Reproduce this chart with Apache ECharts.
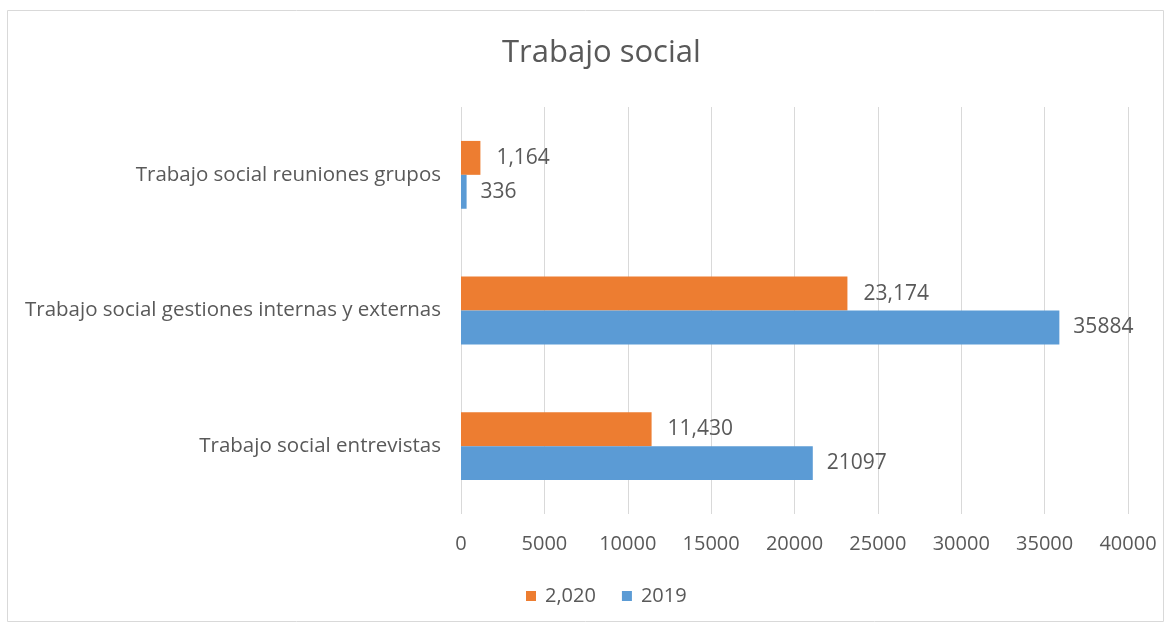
<!DOCTYPE html>
<html>
<head>
<meta charset="utf-8">
<script src="https://cdn.jsdelivr.net/npm/echarts@6/dist/echarts.min.js"></script>
<style>
  html, body { margin: 0; padding: 0; background: #fff; }
  #chart { width: 1171px; height: 626px; }
</style>
</head>
<body>
<div id="chart"></div>
<script>
// categories from bottom to top (category axis starts at the bottom)
const categories = [
  'Trabajo social entrevistas',
  'Trabajo social gestiones internas y externas',
  'Trabajo social reuniones grupos'
]
const values2020 = [11430, 23174, 1164]
const values2019 = [21097, 35884, 336]
const xTicks = { min: 0, max: 40000, interval: 5000 }

const chart = echarts.init(document.getElementById('chart'))
const textColor = '#595959'
const font = '"Open Sans", sans-serif'

chart.setOption({
  animation: false,
  textStyle: { fontFamily: font },
  title: {
    text: 'Trabajo social',
    left: 497,
    top: 33,
    textStyle: { fontSize: 31, fontWeight: 'normal', color: textColor, fontFamily: font }
  },
  // chart frame
  graphic: [{
    type: 'rect',
    shape: { x: 7.5, y: 10.5, width: 1156, height: 611 },
    style: { fill: 'none', stroke: '#d9d9d9', lineWidth: 1 },
    silent: true
  }],
  legend: {
    data: ['2,020', '2019'],
    top: 581,
    left: 521,
    icon: 'rect',
    itemWidth: 10,
    itemHeight: 10,
    itemGap: 26,
    textStyle: { fontSize: 20, color: textColor, fontFamily: font, padding: [0, 0, 0, 4] }
  },
  grid: {
    left: 461,
    right: 43,
    top: 107,
    bottom: 112
  },
  xAxis: {
    type: 'value',
    min: xTicks.min,
    max: xTicks.max,
    interval: xTicks.interval,
    axisLine: { show: false },
    axisTick: { show: false },
    axisLabel: {
      color: textColor,
      fontSize: 20,
      margin: 20,
      fontFamily: font,
      formatter: v => String(v)
    },
    splitLine: { lineStyle: { color: '#d9d9d9' } }
  },
  yAxis: {
    type: 'category',
    data: categories,
    axisLine: { show: false },
    axisTick: { show: false },
    axisLabel: { color: textColor, fontSize: 20.5, margin: 20, fontFamily: font }
  },
  series: [
    {
      // first series sits on top within each band
      name: '2,020',
      type: 'bar',
      data: values2020,
      barGap: '0%',
      barCategoryGap: '50%',
      itemStyle: { color: '#ED7D31' },
      label: {
        show: true,
        position: 'right',
        distance: 16,
        color: textColor,
        fontSize: 21,
        fontFamily: font,
        formatter: p => p.value.toLocaleString('en-US')
      }
    },
    {
      name: '2019',
      type: 'bar',
      data: values2019,
      barGap: '0%',
      barCategoryGap: '50%',
      itemStyle: { color: '#5B9BD5' },
      label: {
        show: true,
        position: 'right',
        distance: 14,
        color: textColor,
        fontSize: 21,
        fontFamily: font
      }
    }
  ]
})
</script>
</body>
</html>
